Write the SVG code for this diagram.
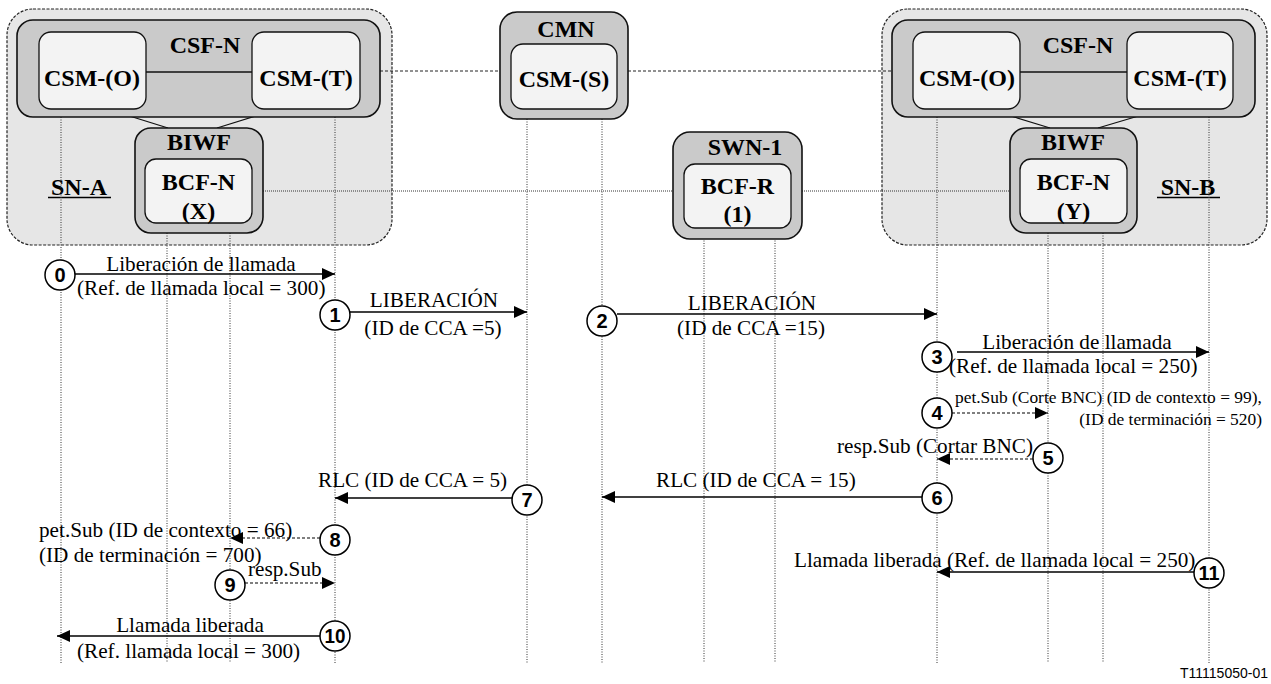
<svg xmlns="http://www.w3.org/2000/svg" width="1271" height="684" viewBox="0 0 1271 684">
<style>
.bg{fill:#ffffff}
.sn{fill:#e6e6e6;stroke:#222;stroke-width:1.2;stroke-dasharray:3,1.5}
.grp{fill:#cacaca;stroke:#111;stroke-width:1.6}
.in{fill:#f3f3f3;stroke:#111;stroke-width:1.3}
.lk{stroke:#111;stroke-width:1.3;fill:none}
.dl{stroke:#222;stroke-width:1;stroke-dasharray:3,2;fill:none}
.dd{stroke:#333;stroke-width:1;stroke-dasharray:1,1;fill:none}
.life{stroke:#333;stroke-width:1;stroke-dasharray:1,1.5;fill:none}
.msg{stroke:#000;stroke-width:1.6;fill:none}
.msgd{stroke:#000;stroke-width:1.2;stroke-dasharray:3,2;fill:none}
.b{font-family:"Liberation Serif","Times New Roman",serif;font-weight:bold;font-size:24px;fill:#000;text-anchor:middle}
.t{font-family:"Liberation Serif","Times New Roman",serif;font-size:21.2px;fill:#000}
.ts{font-family:"Liberation Serif","Times New Roman",serif;font-size:17.4px;fill:#000}
.c{fill:#fff;stroke:#000;stroke-width:1.5}
.n{font-family:"Liberation Sans",Arial,sans-serif;font-weight:bold;font-size:20px;fill:#000;text-anchor:middle}
.m{text-anchor:middle}
.e{text-anchor:end}
.id{font-family:"Liberation Sans",Arial,sans-serif;font-size:14px;fill:#000;text-anchor:end}
</style>
<defs>
<marker id="ah" viewBox="0 0 13 12" refX="13" refY="6" markerWidth="13" markerHeight="12" markerUnits="userSpaceOnUse" orient="auto">
<path d="M0,0 L13,6 L0,12 z" fill="#000"/>
</marker>
</defs>
<rect class="bg" x="0" y="0" width="1271" height="684"/>

<g id="sn-a">
<rect class="sn" x="7" y="9" width="385" height="236" rx="26"/>
<text class="b" x="79" y="195">SN-A</text>
<line x1="48" y1="197.5" x2="111" y2="197.5" stroke="#000" stroke-width="1.3"/>
</g>
<g id="sn-b">
<rect class="sn" x="882" y="9" width="385" height="236" rx="26"/>
<text class="b" x="1188" y="195">SN-B</text>
<line x1="1157" y1="197.5" x2="1220" y2="197.5" stroke="#000" stroke-width="1.3"/>
</g>

<g id="connectors">
<line class="dl" x1="380" y1="71" x2="500" y2="71"/>
<line class="dl" x1="628" y1="71" x2="892" y2="71"/>
<line class="dd" x1="263" y1="191" x2="673" y2="191"/>
<line class="dd" x1="802" y1="191" x2="1010" y2="191"/>
<line class="lk" x1="107" y1="109" x2="168" y2="128"/>
<line class="lk" x1="278" y1="109" x2="217" y2="128"/>
<line class="lk" x1="988" y1="109" x2="1050" y2="128"/>
<line class="lk" x1="1162" y1="109" x2="1098" y2="128"/>
<line class="life" x1="61" y1="117" x2="61" y2="663"/>
<line class="life" x1="335" y1="117" x2="335" y2="663"/>
<line class="life" x1="167" y1="233" x2="167" y2="663"/>
<line class="life" x1="230" y1="233" x2="230" y2="663"/>
<line class="life" x1="527" y1="119" x2="527" y2="663"/>
<line class="life" x1="602" y1="119" x2="602" y2="663"/>
<line class="life" x1="704" y1="228" x2="704" y2="663"/>
<line class="life" x1="775" y1="228" x2="775" y2="663"/>
<line class="life" x1="937" y1="117" x2="937" y2="663"/>
<line class="life" x1="1048" y1="233" x2="1048" y2="663"/>
<line class="life" x1="1103" y1="233" x2="1103" y2="663"/>
<line class="life" x1="1209" y1="117" x2="1209" y2="663"/>
</g>

<g id="csf-n-a">
<rect class="grp" x="17" y="20" width="363" height="97" rx="16"/>
<text class="b" x="205" y="53">CSF-N</text>
<line class="lk" x1="146" y1="72" x2="252" y2="72"/>
</g>
<g id="csm-o-a">
<rect class="in" x="39" y="32" width="107" height="77" rx="12"/>
<text class="b" x="92" y="86">CSM-(O)</text>
</g>
<g id="csm-t-a">
<rect class="in" x="252" y="32" width="108" height="77" rx="12"/>
<text class="b" x="306" y="86">CSM-(T)</text>
</g>
<g id="biwf-a">
<rect class="grp" x="135" y="128" width="128" height="105" rx="16"/>
<text class="b" x="199" y="150">BIWF</text>
</g>
<g id="bcf-n-x">
<rect class="in" x="145" y="159" width="107" height="64" rx="11"/>
<text class="b" x="198.5" y="190">BCF-N</text>
<text class="b" x="198.5" y="219">(X)</text>
</g>

<g id="cmn">
<rect class="grp" x="500" y="12" width="128" height="107" rx="17"/>
<text class="b" x="566" y="37">CMN</text>
</g>
<g id="csm-s">
<rect class="in" x="511" y="44" width="106" height="65" rx="12"/>
<text class="b" x="564" y="87">CSM-(S)</text>
</g>

<g id="swn-1">
<rect class="grp" x="673" y="132" width="129" height="107" rx="17"/>
<text class="b" x="745" y="155">SWN-1</text>
</g>
<g id="bcf-r">
<rect class="in" x="684" y="164" width="107" height="64" rx="11"/>
<text class="b" x="737.5" y="194">BCF-R</text>
<text class="b" x="737.5" y="222">(1)</text>
</g>

<g id="csf-n-b">
<rect class="grp" x="892" y="20" width="363" height="97" rx="16"/>
<text class="b" x="1078" y="53">CSF-N</text>
<line class="lk" x1="1020" y1="72" x2="1127" y2="72"/>
</g>
<g id="csm-o-b">
<rect class="in" x="913" y="32" width="107" height="77" rx="12"/>
<text class="b" x="967" y="86">CSM-(O)</text>
</g>
<g id="csm-t-b">
<rect class="in" x="1127" y="32" width="106" height="77" rx="12"/>
<text class="b" x="1180" y="86">CSM-(T)</text>
</g>
<g id="biwf-b">
<rect class="grp" x="1010" y="128" width="127" height="105" rx="16"/>
<text class="b" x="1073" y="150">BIWF</text>
</g>
<g id="bcf-n-y">
<rect class="in" x="1020" y="159" width="107" height="64" rx="11"/>
<text class="b" x="1073.5" y="190">BCF-N</text>
<text class="b" x="1073.5" y="219">(Y)</text>
</g>

<g id="messages">
<line class="msg" x1="75" y1="274" x2="335" y2="274" marker-end="url(#ah)"/>
<text class="t m" x="201" y="271">Liberación de llamada</text>
<text class="t" x="77" y="295">(Ref. de llamada local = 300)</text>

<line class="msg" x1="350" y1="312" x2="527" y2="312" marker-end="url(#ah)"/>
<text class="t m" x="434" y="307">LIBERACIÓN</text>
<text class="t m" x="433" y="335">(ID de CCA =5)</text>

<line class="msg" x1="617" y1="314" x2="937" y2="314" marker-end="url(#ah)"/>
<text class="t m" x="752" y="310">LIBERACIÓN</text>
<text class="t m" x="751" y="335">(ID de CCA =15)</text>

<line class="msg" x1="957" y1="352" x2="1209" y2="352" marker-end="url(#ah)"/>
<text class="t m" x="1077" y="349">Liberación de llamada</text>
<text class="t" x="949" y="373">(Ref. de llamada local = 250)</text>

<line class="msgd" x1="952" y1="413" x2="1048" y2="413" marker-end="url(#ah)"/>
<text class="ts" x="955" y="403">pet.Sub (Corte BNC) (ID de contexto = 99),</text>
<text class="ts e" x="1262" y="425">(ID de terminación = 520)</text>

<line class="msgd" x1="1033" y1="459" x2="937" y2="459" marker-end="url(#ah)"/>
<text class="t e" x="1033" y="453">resp.Sub (Cortar BNC)</text>

<line class="msg" x1="922" y1="497" x2="602" y2="497" marker-end="url(#ah)"/>
<text class="t" x="656" y="487">RLC (ID de CCA = 15)</text>

<line class="msg" x1="512" y1="498" x2="335" y2="498" marker-end="url(#ah)"/>
<text class="t" x="318" y="487">RLC (ID de CCA = 5)</text>

<line class="msgd" x1="320" y1="538" x2="230" y2="538" marker-end="url(#ah)"/>
<text class="t" x="39" y="537">pet.Sub (ID de contexto = 66)</text>
<text class="t" x="39" y="562">(ID de terminación = 700)</text>

<line class="msgd" x1="245" y1="583" x2="335" y2="583" marker-end="url(#ah)"/>
<text class="t" x="248" y="576">resp.Sub</text>

<line class="msg" x1="1194" y1="572" x2="937" y2="572" marker-end="url(#ah)"/>
<text class="t" x="794" y="567">Llamada liberada (Ref. de llamada local = 250)</text>

<line class="msg" x1="320" y1="636" x2="57" y2="636" marker-end="url(#ah)"/>
<text class="t m" x="190" y="632">Llamada liberada</text>
<text class="t" x="77" y="658">(Ref. llamada local = 300)</text>
</g>

<g id="steps">
<g id="s0"><circle class="c" cx="60" cy="275" r="15"/><text class="n" x="60" y="282">0</text></g>
<g id="s1"><circle class="c" cx="335" cy="315" r="15"/><text class="n" x="335" y="322">1</text></g>
<g id="s2"><circle class="c" cx="602" cy="321" r="15"/><text class="n" x="602" y="328">2</text></g>
<g id="s3"><circle class="c" cx="937" cy="357" r="15"/><text class="n" x="937" y="364">3</text></g>
<g id="s4"><circle class="c" cx="937" cy="413" r="15"/><text class="n" x="937" y="420">4</text></g>
<g id="s5"><circle class="c" cx="1048" cy="458" r="15"/><text class="n" x="1048" y="465">5</text></g>
<g id="s6"><circle class="c" cx="937" cy="498" r="15"/><text class="n" x="937" y="505">6</text></g>
<g id="s7"><circle class="c" cx="527" cy="500" r="15"/><text class="n" x="527" y="507">7</text></g>
<g id="s8"><circle class="c" cx="335" cy="540" r="15"/><text class="n" x="335" y="547">8</text></g>
<g id="s9"><circle class="c" cx="230" cy="585" r="15"/><text class="n" x="230" y="592">9</text></g>
<g id="s10"><circle class="c" cx="335" cy="636" r="15"/><text class="n" x="335" y="643" textLength="21" lengthAdjust="spacingAndGlyphs">10</text></g>
<g id="s11"><circle class="c" cx="1209" cy="573" r="15"/><text class="n" x="1209" y="580" textLength="21" lengthAdjust="spacingAndGlyphs">11</text></g>
</g>

<text class="id" x="1268" y="678">T11115050-01</text>
</svg>
